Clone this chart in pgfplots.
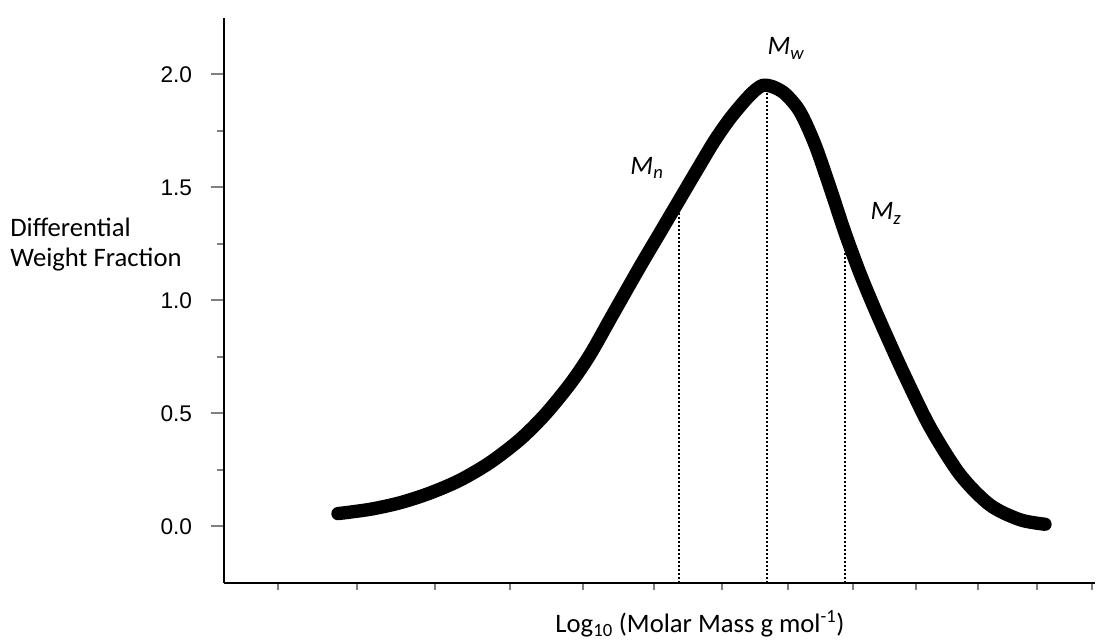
\documentclass[border=0pt]{standalone}
\usepackage{pgfplots}
\pgfplotsset{compat=1.18}
\usepackage{fontspec}
\setmainfont{Carlito}
\newfontfamily\arial{Liberation Sans}

\begin{document}
\begin{tikzpicture}
% page size: 1104 x 641 px at 0.75pt per px, axis box at (224,583)-(1095,18)
\path[use as bounding box] (-168pt,-43.5pt) rectangle (660pt,437.25pt);
\begin{axis}[
  at={(0pt,0pt)}, anchor=south west,
  scale only axis,
  width=653.25pt, height=423.75pt,
  xmin=224, xmax=1095,
  ymin=-0.25, ymax=2.25,
  axis x line=bottom, axis y line=left,
  axis line style={-, line width=1.5pt},
  tick align=outside,
  xtick={278,357,435,510,583,654,722,788,853,916,978,1037,1092},
  xticklabels={},
  ytick={0,0.5,1,1.5,2},
  yticklabels={0.0,0.5,1.0,1.5,2.0},
  minor ytick={0.25,0.75,1.25,1.75},
  xtick style={line width=1.5pt, /pgfplots/major tick length=5pt},
  ytick style={line width=1.5pt, /pgfplots/major tick length=9.5pt},
  minor tick length=5pt,
  yticklabel style={font=\arial\fontsize{17}{20}\selectfont, anchor=east, inner sep=0pt, xshift=-19.5pt},
  clip=false,
]
% dotted drop lines for the averages
\addplot[black, line width=1.6pt, dash pattern=on 1.5pt off 1.5pt] coordinates {(679,-0.25) (679,1.45)};
\addplot[black, line width=1.6pt, dash pattern=on 1.5pt off 1.5pt] coordinates {(767,-0.25) (767,1.94)};
\addplot[black, line width=1.6pt, dash pattern=on 1.5pt off 1.5pt] coordinates {(845,-0.25) (845,1.29)};

% distribution
\addplot[black, line width=10pt, line cap=round, line join=round, smooth] coordinates {
  (338,0.057) (370,0.076) (400,0.105) (430,0.148) (460,0.205) (490,0.283)
  (520,0.385) (545,0.495) (570,0.63) (590,0.76) (613,0.94) (640,1.15)
  (660,1.30) (680,1.45) (700,1.60) (715,1.71) (730,1.805) (745,1.885)
  (755,1.93) (763,1.952) (772,1.947) (785,1.915) (800,1.835) (815,1.69)
  (830,1.50) (845,1.30) (860,1.12) (875,0.96) (890,0.81) (905,0.665)
  (930,0.44) (960,0.23) (990,0.095) (1020,0.03) (1045,0.01)
};

\node[font=\fontsize{20}{22}\selectfont\itshape] at (axis cs:786,2.115) {M\textsubscript{w}};
\node[font=\fontsize{20}{22}\selectfont\itshape] at (axis cs:647,1.588) {M\textsubscript{n}};
\node[font=\fontsize{20}{22}\selectfont\itshape] at (axis cs:886,1.385) {M\textsubscript{z}};

\node[anchor=west, align=left, inner sep=0pt, font=\fontsize{20}{23}\selectfont] at (axis cs:10,1.248) {Differential\\Weight Fraction};
\node[anchor=base, inner sep=0pt, font=\fontsize{20}{22}\selectfont] at (axis cs:700,-0.47) {Log\textsubscript{10} (Molar Mass g mol\textsuperscript{-1})};
\end{axis}
\end{tikzpicture}
\end{document}
